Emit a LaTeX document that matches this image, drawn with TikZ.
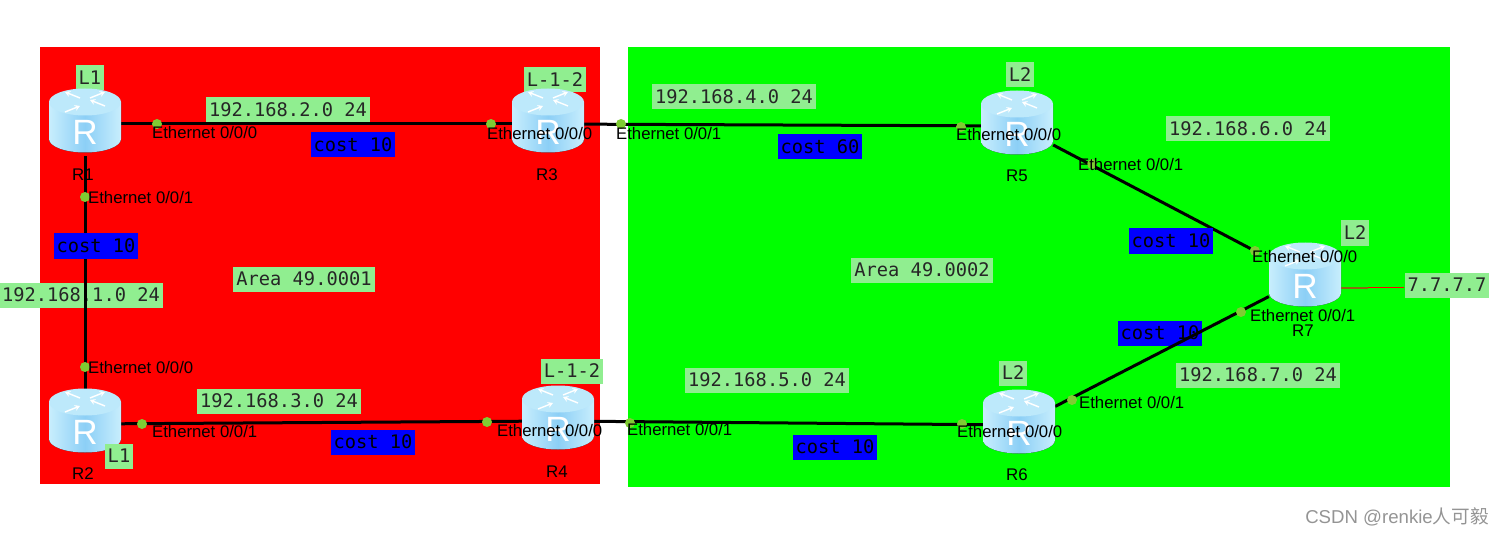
\documentclass[tikz,border=0pt]{standalone}
\usepackage{fontspec}
\setmainfont{Liberation Sans}
\setmonofont{DejaVu Sans Mono}
\newfontfamily\cjkfont{Noto Sans CJK SC}
\usetikzlibrary{backgrounds,arrows.meta}
\definecolor{areared}{HTML}{FF0000}
\definecolor{areagreen}{HTML}{00FF00}
\definecolor{boxgreen}{HTML}{90EE90}
\definecolor{boxblue}{HTML}{0000FF}
\definecolor{portgreen}{HTML}{7FCC33}
\definecolor{routertop}{HTML}{BDE9FB}
\definecolor{routerside}{HTML}{8CCFF6}
\definecolor{routeredge}{HTML}{C8EEFD}
\definecolor{stubolive}{HTML}{8A6A10}
\tikzset{
  link/.style={line width=1.5mm,black},
  netbox/.style={fill=boxgreen,text=black!85,font=\ttfamily\fontsize{26.6}{30}\selectfont,
    inner xsep=1.5mm,inner ysep=0pt,minimum height=12.5mm},
  costbox/.style={fill=boxblue,text=black,font=\ttfamily\fontsize{26.6}{30}\selectfont,
    inner xsep=1.5mm,inner ysep=0pt,minimum height=12.5mm},
  portdot/.style={circle,fill=portgreen,inner sep=0pt,minimum size=5mm},
  portlabel/.style={anchor=west,inner sep=0pt,text=black,font=\fontsize{23.8}{26}\selectfont},
  routerbox/.style={rectangle,inner sep=0pt,minimum width=36mm,minimum height=32mm},
  routername/.style={inner sep=0pt,text=black,font=\fontsize{24}{26}\selectfont},
  routerletter/.style={inner sep=0pt,text=white,font=\fontsize{50}{52}\selectfont},
  routerarrow/.style={white,line width=0.7mm,-{Stealth[length=2.6mm,width=3mm]}},
}
\begin{document}
\begin{tikzpicture}[x=0.5mm,y=-0.5mm]
\useasboundingbox (0,0) rectangle (1505,537);

% Routers
\foreach \rname/\rx/\ry in {R1/85/124,R3/548/124,R5/1017/126,R7/1305/278,R2/85/424,R4/558/421,R6/1019/425} {
   \node[routerbox] (\rname) at (\rx,\ry) {};
   \fill[left color=routeredge,right color=routeredge,middle color=routerside]
      (\rx-36,\ry-22) -- (\rx-36,\ry+15) arc[start angle=180,end angle=360,x radius=18mm,y radius=6.75mm]
      -- (\rx+36,\ry-22) -- cycle;
   \fill[routertop] (\rx,\ry-22) ellipse[x radius=18mm,y radius=6.75mm];
   % Four arrows on top
   \draw[routerarrow] (\rx-5,\ry-26) -- (\rx-20,\ry-32);
   \draw[routerarrow] (\rx+20,\ry-18) -- (\rx+5,\ry-24);
   \draw[routerarrow] (\rx+5,\ry-26) -- (\rx+20,\ry-32);
   \draw[routerarrow] (\rx-20,\ry-12) -- (\rx-5,\ry-18);
   \node[routerletter] (\rname icon) at (\rx,\ry+8) {R};
}

% Ports
\foreach \pname/\dx/\dy/\tx/\ty/\ptext in {
   R1a/157/124/152/133/0,R1b/85/197/88/198/1,R3a/491/124/487/134/0,R3b/621/124/616/134/1,
   R5a/961/127/956/135/0,R5b/1092/164/1078/165/1,R7a/1255/251/1252/257/0,R7b/1241/312/1250/316/1,
   R6b/1072/400/1079/403/1,R6a/962/424/957/432/0,R4b/630/423/627/430/1,R4a/487/422/497/431/0,
   R2b/142/424/152/432/1,R2a/85/367/88/368/0} {
   \node[portdot] (\pname) at (\dx,\dy) {};
   \node[portlabel] (\pname text) at (\tx,\ty) {Ethernet 0/0/\ptext};
}

% Router names
\node[routername] (R1name) at (83,175) {R1};
\node[routername] (R3name) at (547,175) {R3};
\node[routername] (R5name) at (1017,176) {R5};
\node[routername] (R7name) at (1303,331) {R7};
\node[routername] (R2name) at (83,474) {R2};
\node[routername] (R4name) at (557,472) {R4};
\node[routername] (R6name) at (1017,475) {R6};

% Boxes that lie over the links
\node[costbox] (costA) at (353,145) {cost 10};
\node[costbox] (costB) at (96,246) {cost 10};
\node[costbox] (costC) at (820,147) {cost 60};
\node[costbox] (costD) at (1171,241) {cost 10};
\node[costbox] (costF) at (835,447) {cost 10};
\node[costbox] (costG) at (373,442) {cost 10};
\node[netbox] (netA) at (288,110) {192.168.2.0 24};
\node[netbox] (netB) at (734,97) {192.168.4.0 24};
\node[netbox] (netC) at (1248,129) {192.168.6.0 24};
\node[netbox] (netD) at (1258,375) {192.168.7.0 24};
\node[netbox] (netE) at (767,380) {192.168.5.0 24};
\node[netbox] (netF) at (279,401) {192.168.3.0 24};
\node[netbox] (areaA) at (304,279) {Area 49.0001};
\node[netbox] (areaB) at (922,270) {Area 49.0002};
\node[netbox] (seven) at (1447,285) {7.7.7.7};
\node[netbox] (levelF) at (119,456) {L1};

\begin{scope}[on background layer]
% Areas
\fill[areared] (40,47) rectangle (600,484);
\fill[areagreen] (628,47) rectangle (1450,487);

% Boxes under the links and routers
\node[netbox] (netG) at (81,295) {192.168.1.0 24};
\node[costbox] (costE) at (1160,333) {cost 10};
\node[netbox] (levelA) at (90,78) {L1};
\node[netbox] (levelB) at (555,80) {L-1-2};
\node[netbox] (levelC) at (1020,75) {L2};
\node[netbox] (levelD) at (1355,233) {L2};
\node[netbox] (levelE) at (1013,373) {L2};
\node[netbox] (levelG) at (572,371) {L-1-2};

% Links
\draw[link] (R1) -- (R3);
\draw[link] (R3) -- (R5);
\draw[link] (R1) -- (R2);
\draw[link] (R2) -- (R4);
\draw[link] (R4) -- (R6);
\draw[link] (R5) -- (R7a);
\draw[link] (R6) -- (R7);
\coordinate (R7out) at (1341,287.5);
\coordinate (R7mid) at (1368,287.5);
\draw[areared,line width=0.8mm] (R7out) -- (R7out -| seven.west);
\draw[stubolive,line width=1mm] (R7out) -- (R7mid);
\end{scope}

% Watermark
\node[inner sep=0pt,text=black!42,font=\fontsize{26.5}{28}\selectfont] (mark) at (1397,517) {CSDN @renkie{\cjkfont 人可毅}};
\end{tikzpicture}
\end{document}
